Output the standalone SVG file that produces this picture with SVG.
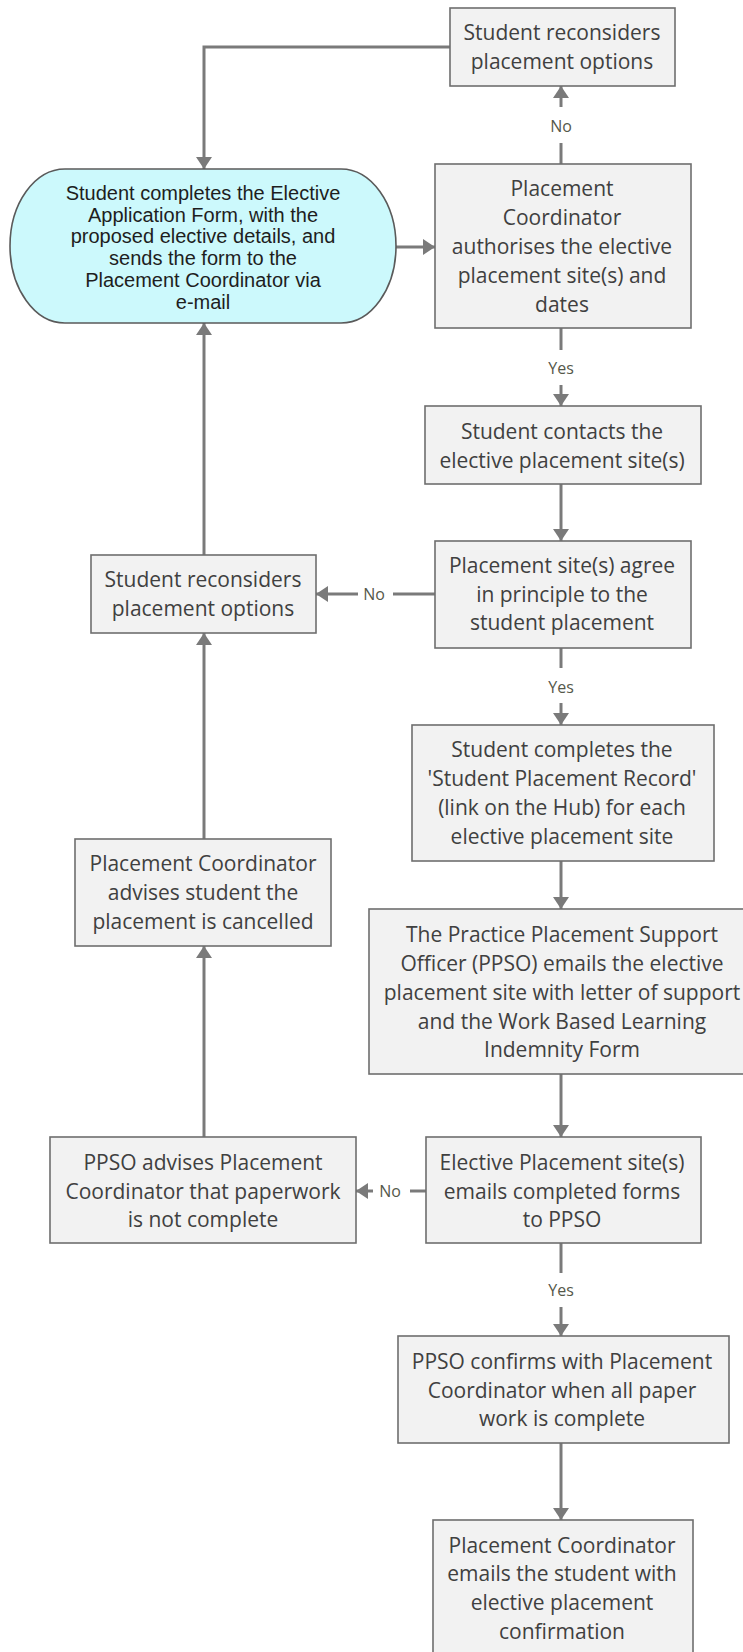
<svg xmlns="http://www.w3.org/2000/svg" width="743" height="1652" viewBox="0 0 743 1652">
<defs>
<marker id="ah" markerUnits="userSpaceOnUse" markerWidth="13" markerHeight="16" refX="12" refY="8" orient="auto">
<path d="M0,0 L12,8 L0,16 z" fill="#7a7a7a"/>
</marker>
<style>
.box{fill:#f2f2f2;stroke:#6e6e6e;stroke-width:1.6}
.start{fill:#ccf9fc;stroke:#5a5a5a;stroke-width:1.6}
.t{font-family:"Open Sans","Noto Sans","DejaVu Sans",sans-serif;font-size:21px;fill:#404040;text-anchor:middle}
.ta{font-family:"Liberation Sans",Arial,sans-serif;font-size:20px;fill:#1e1e1e;text-anchor:middle}
.lbl{font-family:"Open Sans","Noto Sans",sans-serif;font-size:16px;fill:#55584a;text-anchor:middle}
.c{fill:none;stroke:#7a7a7a;stroke-width:3}
.ca{fill:none;stroke:#7a7a7a;stroke-width:3;marker-end:url(#ah)}
</style>
</defs>
<rect width="743" height="1652" fill="#ffffff"/>

<g id="connectors">
<path class="ca" d="M450,47 H204 V169"/>
<path class="ca" d="M396,247 H435"/>
<path class="c" d="M561,164 V143"/>
<path class="ca" d="M561,107 V86"/>
<text class="lbl" x="561" y="132">No</text>
<path class="c" d="M561,328 V350"/>
<path class="ca" d="M561,385 V406"/>
<text class="lbl" x="561" y="374">Yes</text>
<path class="ca" d="M561,484 V541"/>
<path class="c" d="M435,594 H393"/>
<path class="ca" d="M358,594 H316"/>
<text class="lbl" x="374" y="600">No</text>
<path class="c" d="M561,648 V668"/>
<path class="ca" d="M561,703 V725"/>
<text class="lbl" x="561" y="693">Yes</text>
<path class="ca" d="M204,555 V323"/>
<path class="ca" d="M561,861 V909"/>
<path class="ca" d="M204,839 V633"/>
<path class="ca" d="M561,1074 V1137"/>
<path class="c" d="M426,1191 H410"/>
<path class="ca" d="M373,1191 H356"/>
<text class="lbl" x="390" y="1197">No</text>
<path class="ca" d="M204,1137 V946"/>
<path class="c" d="M561,1243 V1273"/>
<path class="ca" d="M561,1307 V1336"/>
<text class="lbl" x="561" y="1296">Yes</text>
<path class="ca" d="M561,1443 V1520"/>
</g>

<g id="n_reconsider_top">
<rect class="box" x="450" y="8" width="225" height="78"/>
<text class="t" x="562" y="40">Student reconsiders</text>
<text class="t" x="562" y="69">placement options</text>
</g>

<g id="n_start">
<path class="start" d="M65,169 H341 A55,77 0 0 1 341,323 H65 A55,77 0 0 1 65,169 z"/>
<text class="ta" x="203" y="200">Student completes the Elective</text>
<text class="ta" x="203" y="222">Application Form, with the</text>
<text class="ta" x="203" y="243">proposed elective details, and</text>
<text class="ta" x="203" y="265">sends the form to the</text>
<text class="ta" x="203" y="287">Placement Coordinator via</text>
<text class="ta" x="203" y="309">e-mail</text>
</g>

<g id="n_authorise">
<rect class="box" x="435" y="164" width="256" height="164"/>
<text class="t" x="562" y="196">Placement</text>
<text class="t" x="562" y="225">Coordinator</text>
<text class="t" x="562" y="254">authorises the elective</text>
<text class="t" x="562" y="283">placement site(s) and</text>
<text class="t" x="562" y="312">dates</text>
</g>

<g id="n_contacts">
<rect class="box" x="425" y="406" width="276" height="78"/>
<text class="t" x="562" y="439">Student contacts the</text>
<text class="t" x="562" y="468">elective placement site(s)</text>
</g>

<g id="n_agree">
<rect class="box" x="435" y="541" width="256" height="107"/>
<text class="t" x="562" y="573">Placement site(s) agree</text>
<text class="t" x="562" y="602">in principle to the</text>
<text class="t" x="562" y="630">student placement</text>
</g>

<g id="n_reconsider_left">
<rect class="box" x="91" y="555" width="225" height="78"/>
<text class="t" x="203" y="587">Student reconsiders</text>
<text class="t" x="203" y="616">placement options</text>
</g>

<g id="n_record">
<rect class="box" x="412" y="725" width="302" height="136"/>
<text class="t" x="562" y="757">Student completes the</text>
<text class="t" x="562" y="786">'Student Placement Record'</text>
<text class="t" x="562" y="815">(link on the Hub) for each</text>
<text class="t" x="562" y="844">elective placement site</text>
</g>

<g id="n_cancel">
<rect class="box" x="75" y="839" width="256" height="107"/>
<text class="t" x="203" y="871">Placement Coordinator</text>
<text class="t" x="203" y="900">advises student the</text>
<text class="t" x="203" y="929">placement is cancelled</text>
</g>

<g id="n_ppso">
<rect class="box" x="369" y="909" width="381" height="165"/>
<text class="t" x="562" y="942">The Practice Placement Support</text>
<text class="t" x="562" y="971">Officer (PPSO) emails the elective</text>
<text class="t" x="562" y="1000">placement site with letter of support</text>
<text class="t" x="562" y="1029">and the Work Based Learning</text>
<text class="t" x="562" y="1057">Indemnity Form</text>
</g>

<g id="n_elective">
<rect class="box" x="426" y="1137" width="275" height="106"/>
<text class="t" x="562" y="1170">Elective Placement site(s)</text>
<text class="t" x="562" y="1199">emails completed forms</text>
<text class="t" x="562" y="1227">to PPSO</text>
</g>

<g id="n_ppso_advises">
<rect class="box" x="50" y="1137" width="306" height="106"/>
<text class="t" x="203" y="1170">PPSO advises Placement</text>
<text class="t" x="203" y="1199">Coordinator that paperwork</text>
<text class="t" x="203" y="1227">is not complete</text>
</g>

<g id="n_confirms">
<rect class="box" x="398" y="1336" width="331" height="107"/>
<text class="t" x="562" y="1369">PPSO confirms with Placement</text>
<text class="t" x="562" y="1398">Coordinator when all paper</text>
<text class="t" x="562" y="1426">work is complete</text>
</g>

<g id="n_final">
<rect class="box" x="433" y="1520" width="260" height="145"/>
<text class="t" x="562" y="1553">Placement Coordinator</text>
<text class="t" x="562" y="1581">emails the student with</text>
<text class="t" x="562" y="1610">elective placement</text>
<text class="t" x="562" y="1639">confirmation</text>
</g>
</svg>
